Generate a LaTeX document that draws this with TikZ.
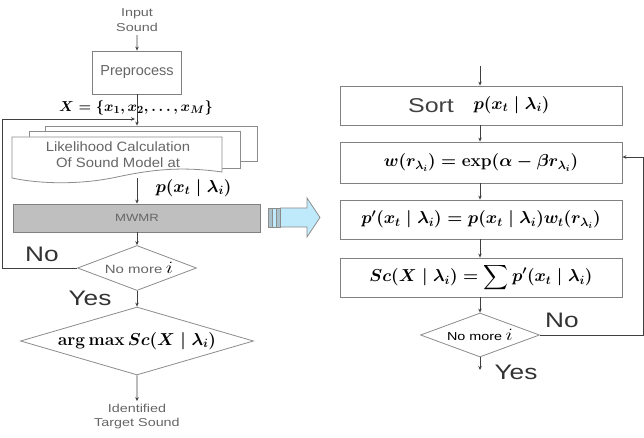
\documentclass[tikz,border=0pt]{standalone}
\usepackage{amsmath}
\usepackage[no-math]{fontspec}
\setmainfont{Liberation Sans}
\usetikzlibrary{arrows.meta,shapes.geometric,positioning}

\tikzset{
  graytxt/.style={text=black!60},
  stretch/.style={xscale=1.25},
  flowbox/.style={draw=black!50, line width=0.8pt, fill=white, inner sep=0pt},
  stackbox/.style={draw=black!45, line width=0.8pt, fill=white, inner sep=0pt},
  flowline/.style={draw=black!75, line width=0.7pt, -{Stealth[length=4pt,width=3.5pt]}},
  decision/.style={diamond, draw=black!45, line width=0.8pt, fill=white, inner sep=0pt},
  mathlbl/.style={font=\fontsize{18}{20}\selectfont\boldmath},
  yesno/.style={text=black!80, font=\fontsize{21}{23}\selectfont, stretch},
}

\begin{document}
\begin{tikzpicture}[x=1pt,y=-1pt]
\useasboundingbox (0,0) rectangle (644,438);

% left chart
\node[graytxt, align=center, font=\fontsize{11.5}{15}\selectfont, stretch] (insnd) at (137,20) {Input\\Sound};
\node[flowbox, minimum width=89pt, minimum height=43pt] (pre) at (137,72.5) {};
\node[graytxt, font=\fontsize{14.5}{16}\selectfont] (pretxt) at (pre) {Preprocess};
\node[stackbox, minimum width=212pt, minimum height=35pt] (lk3) at (151,143.5) {};
\node[stackbox, minimum width=211pt, minimum height=37pt] (lk2) at (134.5,149.5) {};
\draw[stackbox] (12,137) -- (222,137) -- (222,172) .. controls (180,166) and (150,170) .. (117,177) .. controls (80,185) and (40,184) .. (12,178) -- cycle;
\node[minimum width=210pt, minimum height=41pt] (lik) at (117,157.5) {};
\node[graytxt, align=center, font=\fontsize{13.5}{16}\selectfont, xscale=1.1] (liktxt) at (118,155) {Likelihood Calculation\\Of Sound Model at};
\node[draw=black!50, line width=0.8pt, fill=black!25, minimum width=247pt, minimum height=28pt] (mwmr) at (137,218) {};
\node[graytxt, font=\fontsize{10.5}{12}\selectfont, stretch] (mwmrtxt) at (mwmr) {MWMR};
\node[decision, aspect=2.6, minimum width=119pt, minimum height=45pt] (dec1) at (137,268) {};
\node[stretch] (dec1txt) at (139,268) {\textcolor{black!60}{\fontsize{12}{14}\selectfont No more} {\fontsize{19}{20}\selectfont$i$}};
\node[decision, aspect=3.4, minimum width=233pt, minimum height=68pt] (best) at (137,341) {};
\node[mathlbl] (besttxt) at (best) {$\arg\max Sc(X\mid\lambda_i)$};
\node[graytxt, align=center, font=\fontsize{11.5}{14}\selectfont, stretch] (outsnd) at (137,417) {Identified\\Target Sound};

\draw[flowline] (insnd) -- (pre);
\draw[flowline] (pre) -- (pre |- lk3.north);
\node[font=\fontsize{15}{17}\selectfont\boldmath] (xset) at (136,108) {$X=\{x_1,x_2,\ldots,x_M\}$};
\coordinate (loopL) at (2,119);
\coordinate (merge) at (135,119);
\draw[flowline] (dec1.west) -| (loopL) -- (merge);
\draw[flowline] (mwmr.north |- lik.south) -- (mwmr.north);
\node[font=\fontsize{17}{19}\selectfont\boldmath, anchor=west] (plik) at (152,188) {$p(x_t\mid\lambda_i)$};
\draw[flowline] (mwmr) -- (dec1);
\draw[flowline] (dec1) -- (best);
\draw[flowline] (best) -- (outsnd);
\node[yesno] (no1) at (42,254) {No};
\node[yesno] (yes1) at (90,298) {Yes};

% block arrow between the charts
\fill[cyan!25!white] (280,208) -- (307,208) -- (307,198) -- (320,217.5) -- (307,237) -- (307,227) -- (280,227) -- cycle;
\draw[black!45, line width=0.8pt] (280,208) -- (307,208) -- (307,198) -- (320,217.5) -- (307,237) -- (307,227) -- (280,227);
\draw[black!45, fill=cyan!45!black!40] (268,208) rectangle (272,227);
\draw[black!45, fill=cyan!25!white] (272,208) rectangle (276,227);
\draw[black!45, fill=cyan!45!black!40] (276,208) rectangle (280,227);

% right chart
\coordinate (rtop) at (480,66);
\node[flowbox, minimum width=282pt, minimum height=39pt] (sort) at (481,105.5) {};
\node[text=black!75, font=\fontsize{20}{22}\selectfont, stretch] (sorttxt) at (431,106) {Sort};
\node[font=\fontsize{18}{20}\selectfont\boldmath, anchor=west] (sortp) at (470,105) {$p(x_t\mid\lambda_i)$};
\node[flowbox, minimum width=282pt, minimum height=41pt, mathlbl] (weight) at (481,162.5) {$w(r_{\lambda_i})=\exp(\alpha-\beta r_{\lambda_i})$};
\node[flowbox, minimum width=282pt, minimum height=39pt, mathlbl] (pnew) at (481,219.5) {$p'(x_t\mid\lambda_i)=p(x_t\mid\lambda_i)w_t(r_{\lambda_i})$};
\node[flowbox, minimum width=282pt, minimum height=39pt, mathlbl] (score) at (481,277.5) {$Sc(X\mid\lambda_i)=\displaystyle\sum p'(x_t\mid\lambda_i)$};
\node[decision, aspect=2.7, minimum width=119pt, minimum height=44pt] (dec2) at (480,335) {};
\node[stretch] (dec2txt) at (480,335) {{\fontsize{11.5}{13}\selectfont No more} {\fontsize{18}{20}\selectfont$i$}};
\coordinate (rend) at (480,370);
\coordinate (loopR) at (643,157);

\draw[flowline] (rtop) -- (rtop |- sort.north);
\draw[flowline] (sort.south -| rtop) -- (weight.north -| rtop);
\draw[flowline] (weight.south -| rtop) -- (pnew.north -| rtop);
\draw[flowline] (pnew.south -| rtop) -- (score.north -| rtop);
\draw[flowline] (score.south -| rtop) -- (dec2);
\draw[flowline] (dec2) -- (rend);
\draw[flowline] (dec2.east) -| (loopR) -- (loopR -| weight.east);
\node[yesno] (no2) at (562,320) {No};
\node[yesno] (yes2) at (516,372) {Yes};
\end{tikzpicture}
\end{document}
